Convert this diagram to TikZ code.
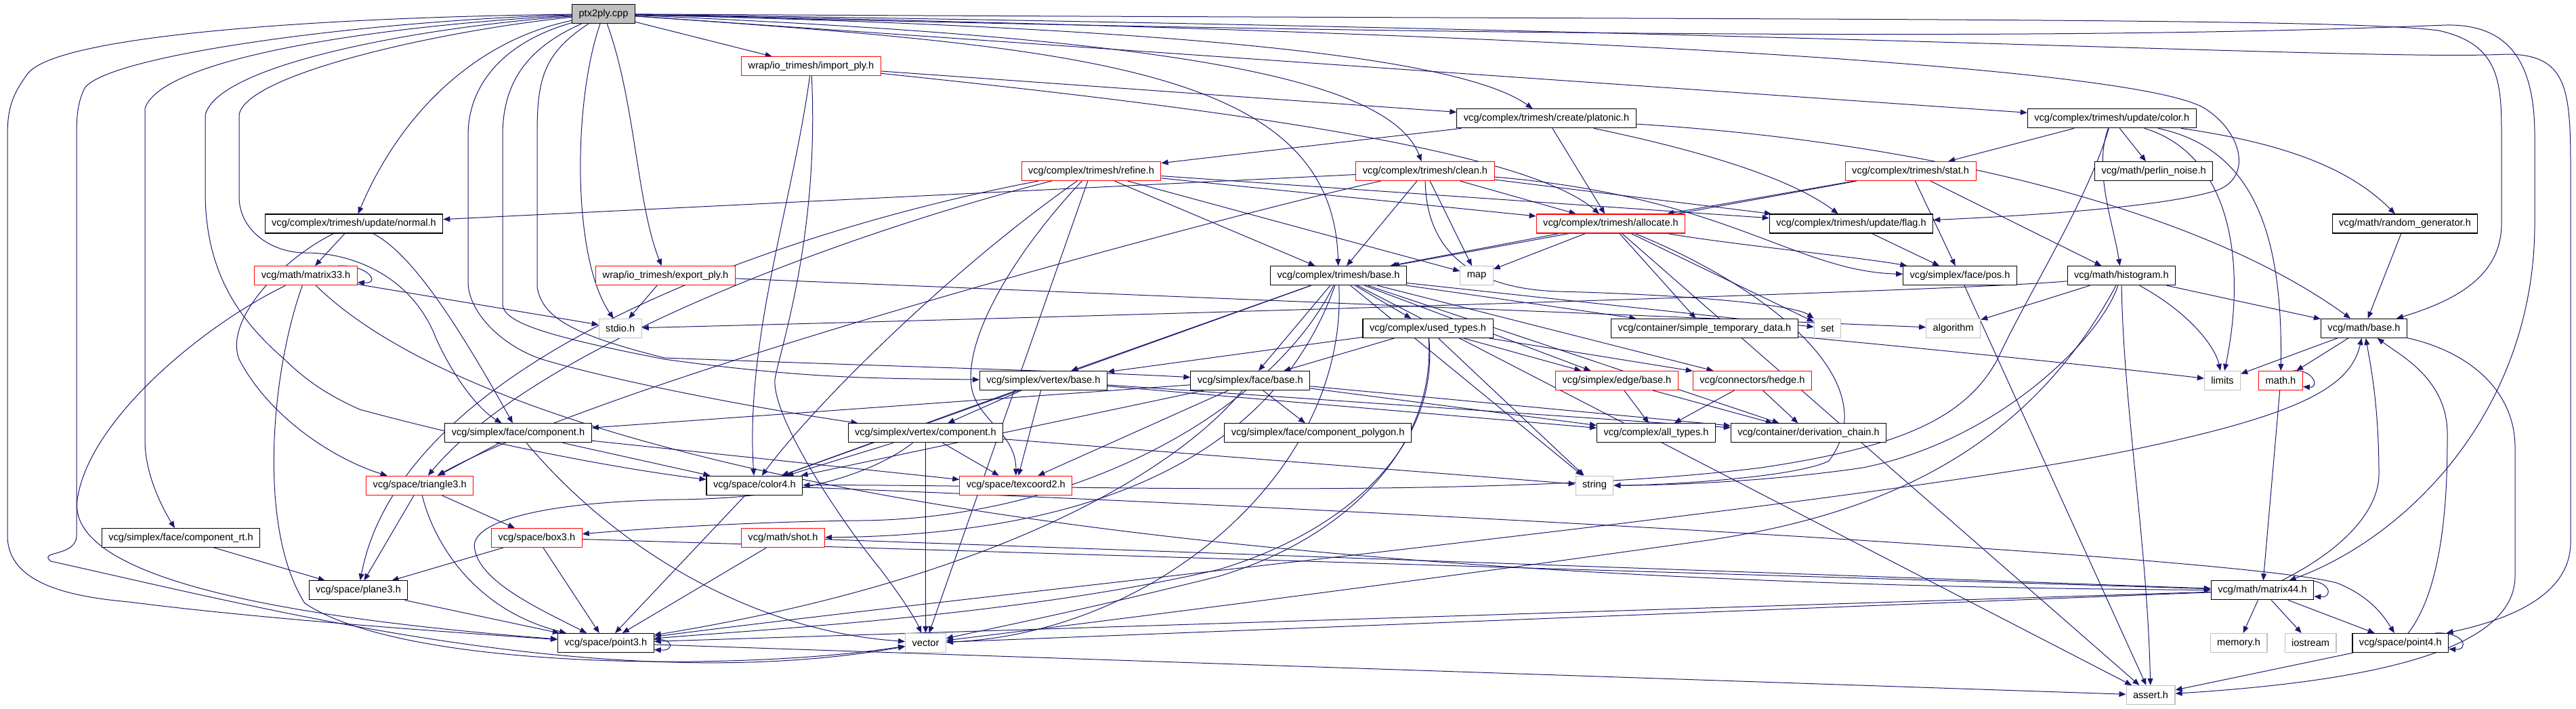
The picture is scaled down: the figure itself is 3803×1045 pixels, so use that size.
\documentclass[tikz,border=0pt]{standalone}
\usepackage{fontspec}
\setmainfont{Liberation Sans}
\usetikzlibrary{arrows.meta}
\pgfdeclarelayer{bg}
\pgfsetlayers{bg,main}
\definecolor{edgeblue}{HTML}{191970}
\definecolor{boxgray}{HTML}{BFBFBF}
\newcommand\nfont{\fontsize{14.6}{17}\selectfont}
\tikzset{
  nd/.style={draw=black, line width=1.1pt, fill=white, minimum height=28pt, inner xsep=10pt, inner ysep=0pt, font=\nfont, text=black},
  rd/.style={nd, draw=red},
  gr/.style={nd, draw=boxgray},
  root/.style={nd, fill=boxgray},
  dep/.style={draw=edgeblue, line width=1pt, -{Triangle[length=10pt,width=8pt]}}
}
\begin{document}
\begin{tikzpicture}[x=1pt,y=-1pt]
\useasboundingbox (0,0) rectangle (3803,1045);
% ---------- nodes ----------
\node[root] (ptx) at (891,20.6) {ptx2ply.cpp};
\node[rd] (importply) at (1197.5,97.7) {wrap/io\_trimesh/import\_ply.h};
\node[nd] (platonic) at (2283,174.8) {vcg/complex/trimesh/create/platonic.h};
\node[nd] (ucolor) at (3117.7,174.8) {vcg/complex/trimesh/update/color.h};
\node[rd] (refine) at (1611,252.5) {vcg/complex/trimesh/refine.h};
\node[rd] (clean) at (2104,252.5) {vcg/complex/trimesh/clean.h};
\node[rd] (stat) at (2820.6,252.5) {vcg/complex/trimesh/stat.h};
\node[nd] (perlin) at (3179.6,252.5) {vcg/math/perlin\_noise.h};
\node[nd] (normal) at (522.5,330) {vcg/complex/trimesh/update/normal.h};
\node[rd] (allocate) at (2378,330) {vcg/complex/trimesh/allocate.h};
\node[nd] (flag) at (2733,330) {vcg/complex/trimesh/update/flag.h};
\node[nd] (random) at (3550.5,330) {vcg/math/random\_generator.h};
\node[rd] (matrix33) at (451.6,406.7) {vcg/math/matrix33.h};
\node[rd] (exportply) at (982.5,406.7) {wrap/io\_trimesh/export\_ply.h};
\node[nd] (tbase) at (1976,406.7) {vcg/complex/trimesh/base.h};
\node[gr] (map) at (2180,406.7) {map};
\node[nd] (pos) at (2893.5,406.7) {vcg/simplex/face/pos.h};
\node[nd] (histogram) at (3131.8,406.7) {vcg/math/histogram.h};
\node[gr] (stdio) at (915.7,484.4) {stdio.h};
\node[nd] (usedtypes) at (2108,484.4) {vcg/complex/used\_types.h};
\node[nd] (simpletemp) at (2516.5,484.4) {vcg/container/simple\_temporary\_data.h};
\node[gr] (set) at (2698,484.4) {set};
\node[gr] (algorithm) at (2883.7,484.4) {algorithm};
\node[nd] (mbase) at (3490,484.4) {vcg/math/base.h};
\node[nd] (vbase) at (1540.4,561.5) {vcg/simplex/vertex/base.h};
\node[nd] (fbase) at (1845.8,561.5) {vcg/simplex/face/base.h};
\node[rd] (ebase) at (2387,561.5) {vcg/simplex/edge/base.h};
\node[rd] (hedge) at (2586.9,561.5) {vcg/connectors/hedge.h};
\node[gr] (limits) at (3281,561.5) {limits};
\node[rd] (mathh) at (3367,561.5) {math.h};
\node[nd] (fcomp) at (765,638.8) {vcg/simplex/face/component.h};
\node[nd] (vcomp) at (1366.4,638.8) {vcg/simplex/vertex/component.h};
\node[nd] (fcpoly) at (1945.6,638.8) {vcg/simplex/face/component\_polygon.h};
\node[nd] (alltypes) at (2445,638.8) {vcg/complex/all\_types.h};
\node[nd] (derivchain) at (2670,638.8) {vcg/container/derivation\_chain.h};
\node[rd] (triangle3) at (619.7,716.2) {vcg/space/triangle3.h};
\node[nd] (color4) at (1113.9,716.2) {vcg/space/color4.h};
\node[rd] (texcoord2) at (1499.8,716.2) {vcg/space/texcoord2.h};
\node[gr] (string) at (2354,716.2) {string};
\node[nd] (comprt) at (267,793.5) {vcg/simplex/face/component\_rt.h};
\node[rd] (box3) at (792.4,793.5) {vcg/space/box3.h};
\node[rd] (shot) at (1156,793.5) {vcg/math/shot.h};
\node[nd] (plane3) at (529,870.9) {vcg/space/plane3.h};
\node[nd] (matrix44) at (3340,870.9) {vcg/math/matrix44.h};
\node[nd] (point3) at (894.3,948.5) {vcg/space/point3.h};
\node[gr] (vector) at (1366.5,948.5) {vector};
\node[gr] (memoryh) at (3305,948.5) {memory.h};
\node[gr] (iostream) at (3411,948.5) {iostream};
\node[nd] (point4) at (3543.8,948.5) {vcg/space/point4.h};
\node[gr] (assert) at (3175,1025.5) {assert.h};
% ---------- edges ----------
\begin{pgfonlayer}{bg}
\fill[white] (0,0) rectangle (3803,1045);
% ptx2ply.cpp
\draw[dep] (ptx) -- (importply);
\draw[dep] (ptx) .. controls (938,150) and (940,300) .. (exportply);
\draw[dep] (ptx) .. controls (846,150) and (844,380) .. (stdio);
\draw[dep] (ptx) .. controls (700,60) and (590,170) .. (normal);
\draw[dep] (ptx) .. controls (1700,40) and (2150,80) .. (platonic);
\draw[dep] (ptx) .. controls (1700,55) and (2050,110) .. (clean);
\draw[dep] (ptx) .. controls (1600,70) and (1968,100) .. (tbase);
\draw[dep] (ptx) -- (ucolor);
\draw[dep] (ptx) .. controls (2200,45) and (3150,95) .. (3255,160) .. controls (3310,195) and (3325,260) .. (3275,280) .. controls (3200,305) and (3000,318) .. (flag);
\draw[dep] (ptx) .. controls (2600,30) and (3450,25) .. (3600,45) .. controls (3690,65) and (3693,120) .. (3693,200) -- (3693,330) .. controls (3693,410) and (3620,445) .. (mbase);
\draw[dep] (ptx) .. controls (2700,45) and (3500,90) .. (3700,80) .. controls (3790,80) and (3795,130) .. (3795,250) -- (3795,800) .. controls (3795,880) and (3700,915) .. (point4);
\draw[dep] (ptx) .. controls (2800,70) and (3400,45) .. (3611,37) .. controls (3710,35) and (3742,100) .. (3742,200) -- (3742,330) .. controls (3742,600) and (3560,790) .. (matrix44);
\draw[dep] (ptx) .. controls (500,25) and (80,50) .. (40,110) .. controls (18,140) and (11,160) .. (11,200) -- (11,790) .. controls (11,860) and (100,880) .. (190,888) .. controls (400,915) and (700,935) .. (point3);
\draw[dep] (ptx) .. controls (550,30) and (160,80) .. (125,130) .. controls (115,150) and (113,170) .. (113,200) -- (113,790) .. controls (113,822) and (55,812) .. (75,828) .. controls (400,900) and (900,1030) .. (vector);
\draw[dep] (ptx) .. controls (600,35) and (240,80) .. (214,160) -- (214,650) .. controls (214,700) and (240,750) .. (comprt);
\draw[dep] (ptx) .. controls (620,40) and (320,95) .. (303,170) -- (303,290) .. controls (305,400) and (350,470) .. (420,530) .. controls (460,570) and (500,590) .. (531,604) .. controls (700,650) and (900,690) .. (color4);
\draw[dep] (ptx) .. controls (650,45) and (360,110) .. (353,170) -- (353,290) .. controls (353,340) and (400,372) .. (449,373) .. controls (510,372) and (600,400) .. (640,490) .. controls (660,540) and (700,600) .. (fcomp);
\draw[dep] (ptx) .. controls (750,60) and (691,120) .. (691,200) -- (691,416) .. controls (691,460) and (740,510) .. (800,530) .. controls (900,560) and (1100,600) .. (vcomp);
\draw[dep] (ptx) .. controls (780,70) and (742,120) .. (742,200) -- (742,450) .. controls (745,475) and (800,495) .. (981,530) .. controls (1200,560) and (1300,558) .. (vbase);
\draw[dep] (ptx) .. controls (800,80) and (793,120) .. (793,200) -- (793,423) .. controls (800,470) and (850,495) .. (981,528) .. controls (1300,540) and (1600,548) .. (fbase);
% import_ply / export_ply
\draw[dep] (importply) -- (platonic);
\draw[dep] (importply) .. controls (1800,160) and (2250,220) .. (allocate);
\draw[dep] (importply) .. controls (1170,300) and (1100,500) .. (color4);
\draw[dep] (importply) .. controls (1210,350) and (1150,520) .. (1144,560) .. controls (1140,620) and (1250,780) .. (1300,840) .. controls (1330,880) and (1350,910) .. (vector);
\draw[dep] (exportply) -- (stdio);
\draw[dep] (exportply) -- (algorithm);
% platonic
\draw[dep] (platonic) -- (refine);
\draw[dep] (platonic) -- (allocate);
\draw[dep] (platonic) .. controls (2500,220) and (2640,260) .. (flag);
\draw[dep] (platonic) .. controls (2850,210) and (3250,310) .. (mbase);
% update/color
\draw[dep] (ucolor) -- (stat);
\draw[dep] (ucolor) -- (perlin);
\draw[dep] (ucolor) .. controls (3400,215) and (3480,260) .. (random);
\draw[dep] (ucolor) .. controls (3090,250) and (3120,330) .. (histogram);
\draw[dep] (ucolor) .. controls (3300,230) and (3315,400) .. (limits);
\draw[dep] (ucolor) .. controls (3330,220) and (3370,350) .. (mathh);
\draw[dep] (ucolor) .. controls (3080,300) and (2990,440) .. (2949,530) .. controls (2900,620) and (2800,660) .. (2600,690) .. controls (2200,740) and (1500,714) .. (color4);
% stat
\draw[dep] (stat) -- (allocate);
\draw[dep] (stat) -- (tbase);
\draw[dep] (stat) -- (pos);
\draw[dep] (stat) -- (histogram);
\draw[dep] (flag) -- (pos);
\draw[dep] (pos) -- (assert);
% refine
\draw[dep] (refine) -- (allocate);
\draw[dep] (refine) -- (flag);
\draw[dep] (refine) -- (tbase);
\draw[dep] (refine) -- (map);
\draw[dep] (refine) .. controls (1500,370) and (1420,500) .. (1435,575) .. controls (1445,620) and (1500,640) .. (texcoord2);
\draw[dep] (refine) .. controls (1400,400) and (1200,600) .. (color4);
\draw[dep] (refine) .. controls (1300,330) and (800,500) .. (triangle3);
\draw[dep] (refine) .. controls (1250,320) and (600,500) .. (plane3);
\draw[dep] (refine) -- (vector);
% clean
\draw[dep] (clean) -- (normal);
\draw[dep] (clean) -- (tbase);
\draw[dep] (clean) -- (map);
\draw[dep] (clean) -- (allocate);
\draw[dep] (clean) -- (flag);
\draw[dep] (clean) .. controls (2550,290) and (2650,400) .. (pos);
\draw[dep] (clean) .. controls (1800,320) and (900,560) .. (triangle3);
\draw[dep] (clean) .. controls (2105,350) and (2150,425) .. (2300,430) .. controls (2500,435) and (2650,450) .. (set);
% allocate
\draw[dep] (allocate) -- (tbase);
\draw[dep] (allocate) -- (map);
\draw[dep] (allocate) -- (simpletemp);
\draw[dep] (allocate) -- (set);
\draw[dep] (allocate) .. controls (2550,360) and (2750,380) .. (pos);
\draw[dep] (allocate) .. controls (2600,420) and (2790,560) .. (2700,680) .. controls (2650,705) and (2450,716) .. (string);
\draw[dep] (allocate) -- (assert);
% histogram
\draw[dep] (histogram) .. controls (2900,430) and (1500,470) .. (stdio);
\draw[dep] (histogram) -- (algorithm);
\draw[dep] (histogram) -- (mbase);
\draw[dep] (histogram) .. controls (3230,460) and (3270,510) .. (limits);
\draw[dep] (histogram) .. controls (3100,500) and (2950,650) .. (2750,690) .. controls (2600,712) and (2450,716) .. (string);
\draw[dep] (histogram) .. controls (3135,600) and (3170,800) .. (assert);
\draw[dep] (histogram) .. controls (3000,650) and (2800,760) .. (2500,800) .. controls (2000,870) and (1600,920) .. (vector);
% math
\draw[dep] (random) -- (mbase);
\draw[dep] (mbase) -- (limits);
\draw[dep] (mbase) -- (mathh);
\draw[dep] (mbase) .. controls (3650,520) and (3713,580) .. (3713,660) -- (3713,850) .. controls (3713,960) and (3500,1005) .. (assert);
\draw[dep] (mathh) -- (matrix44);
\draw[dep] ([xshift=-14pt]mathh.north east) .. controls +(30,-2) and +(25,2) .. ([yshift=-9pt]mathh.east);
\draw[dep] (matrix44) .. controls (3480,800) and (3512,740) .. (3512,700) .. controls (3512,600) and (3500,540) .. (mbase);
\draw[dep] (matrix44) -- (memoryh);
\draw[dep] (matrix44) -- (iostream);
\draw[dep] (matrix44) -- (point4);
\draw[dep] (matrix44) -- (point3);
\draw[dep] (matrix44) -- (vector);
\draw[dep] ([xshift=-16pt]matrix44.north east) .. controls +(40,-2) and +(30,2) .. ([yshift=-9pt]matrix44.east);
\draw[dep] (point4) .. controls (3613,860) and (3613,700) .. (3613,640) .. controls (3613,560) and (3545,525) .. (mbase);
\draw[dep] (point4) -- (assert);
\draw[dep] ([xshift=-20pt]point4.north east) .. controls +(45,-2) and +(30,2) .. ([yshift=-9pt]point4.east);
\draw[dep] (point3) .. controls (1500,870) and (2800,740) .. (3160,661) .. controls (3400,610) and (3470,570) .. (mbase);
\draw[dep] (point3) -- (assert);
\draw[dep] ([yshift=5pt]point3.east) .. controls +(30,-2) and +(30,2) .. ([yshift=-10pt]point3.east);
% space
\draw[dep] (color4) -- (point3);
\draw[dep] (color4) .. controls (2000,750) and (3300,820) .. (3450,860) .. controls (3500,880) and (3520,910) .. (point4);
\draw[dep] (shot) -- (point3);
\draw[dep] (shot) -- (matrix44);
\draw[dep] (box3) -- (point3);
\draw[dep] (box3) -- (plane3);
\draw[dep] (box3) -- (matrix44);
\draw[dep] (plane3) -- (point3);
\draw[dep] (comprt) -- (plane3);
\draw[dep] (triangle3) -- (plane3);
\draw[dep] (triangle3) -- (box3);
\draw[dep] (triangle3) .. controls (640,800) and (700,900) .. (point3);
% simplex
\draw[dep] (fcomp) -- (triangle3);
\draw[dep] (fcomp) -- (color4);
\draw[dep] (fcomp) -- (texcoord2);
\draw[dep] (fcomp) .. controls (900,800) and (1100,930) .. (vector);
\draw[dep] (vcomp) -- (texcoord2);
\draw[dep] (vcomp) -- (vector);
\draw[dep] (vcomp) .. controls (1300,690) and (1200,735) .. (1000,737) .. controls (800,740) and (690,770) .. (701,811) .. controls (710,860) and (800,900) .. (point3);
\draw[dep] (vcomp) -- (color4);
\draw[dep] (vcomp) -- (string);
\draw[dep] (vbase) -- (vcomp);
\draw[dep] (vbase) -- (texcoord2);
\draw[dep] (vbase) -- (color4);
\draw[dep] (vbase) -- (alltypes);
\draw[dep] (vbase) -- (derivchain);
\draw[dep] (fbase) -- (fcomp);
\draw[dep] (fbase) -- (fcpoly);
\draw[dep] (fbase) -- (texcoord2);
\draw[dep] (fbase) -- (color4);
\draw[dep] (fbase) .. controls (1750,680) and (1500,850) .. (point3);
\draw[dep] (fbase) -- (alltypes);
\draw[dep] (fbase) -- (derivchain);
\draw[dep] (ebase) -- (alltypes);
\draw[dep] (ebase) -- (derivchain);
\draw[dep] (hedge) -- (alltypes);
\draw[dep] (hedge) -- (derivchain);
% used_types
\draw[dep] (usedtypes) -- (vbase);
\draw[dep] (usedtypes) -- (fbase);
\draw[dep] (usedtypes) -- (ebase);
\draw[dep] (usedtypes) -- (hedge);
\draw[dep] (usedtypes) -- (string);
\draw[dep] (usedtypes) .. controls (2125,650) and (2000,780) .. (1800,840) .. controls (1500,910) and (1100,930) .. (point3);
\draw[dep] (usedtypes) .. controls (2120,650) and (2000,790) .. (1800,850) .. controls (1600,900) and (1450,930) .. (vector);
% trimesh/base
\draw[dep] (tbase) -- (usedtypes);
\draw[dep] (tbase) -- (simpletemp);
\draw[dep] (tbase) -- (vbase);
\draw[dep] (tbase) -- (fbase);
\draw[dep] (tbase) -- (ebase);
\draw[dep] (tbase) -- (hedge);
\draw[dep] (tbase) -- (color4);
\draw[dep] (tbase) .. controls (1900,620) and (1700,788) .. (shot);
\draw[dep] (tbase) .. controls (1880,600) and (1600,765) .. (1270,768) .. controls (1100,770) and (950,780) .. (box3);
\draw[dep] (tbase) -- (set);
\draw[dep] (tbase) -- (string);
\draw[dep] (tbase) .. controls (1990,700) and (1700,935) .. (vector);
\draw[dep] (tbase) -- (assert);
\draw[dep] (tbase) -- (derivchain);
\draw[dep] (simpletemp) .. controls (2800,510) and (3100,540) .. (limits);
% matrix33 / normal
\draw[dep] (matrix33) -- (stdio);
\draw[dep] (matrix33) .. controls (300,480) and (130,620) .. (114,738) .. controls (100,850) and (400,910) .. (point3);
\draw[dep] (matrix33) .. controls (400,550) and (380,780) .. (450,890) .. controls (600,990) and (1100,990) .. (vector);
\draw[dep] (matrix33) .. controls (700,650) and (1500,860) .. (matrix44);
\draw[dep] ([xshift=-29pt]matrix33.north east) .. controls +(45,-2) and +(35,2) .. ([yshift=-10pt]matrix33.east);
\draw[dep] (normal) -- (matrix33);
\draw[dep] (normal) .. controls (420,380) and (330,470) .. (353,530) .. controls (400,620) and (500,680) .. (triangle3);
\draw[dep] (normal) .. controls (600,370) and (660,450) .. (fcomp);
\end{pgfonlayer}
\end{tikzpicture}
\end{document}
